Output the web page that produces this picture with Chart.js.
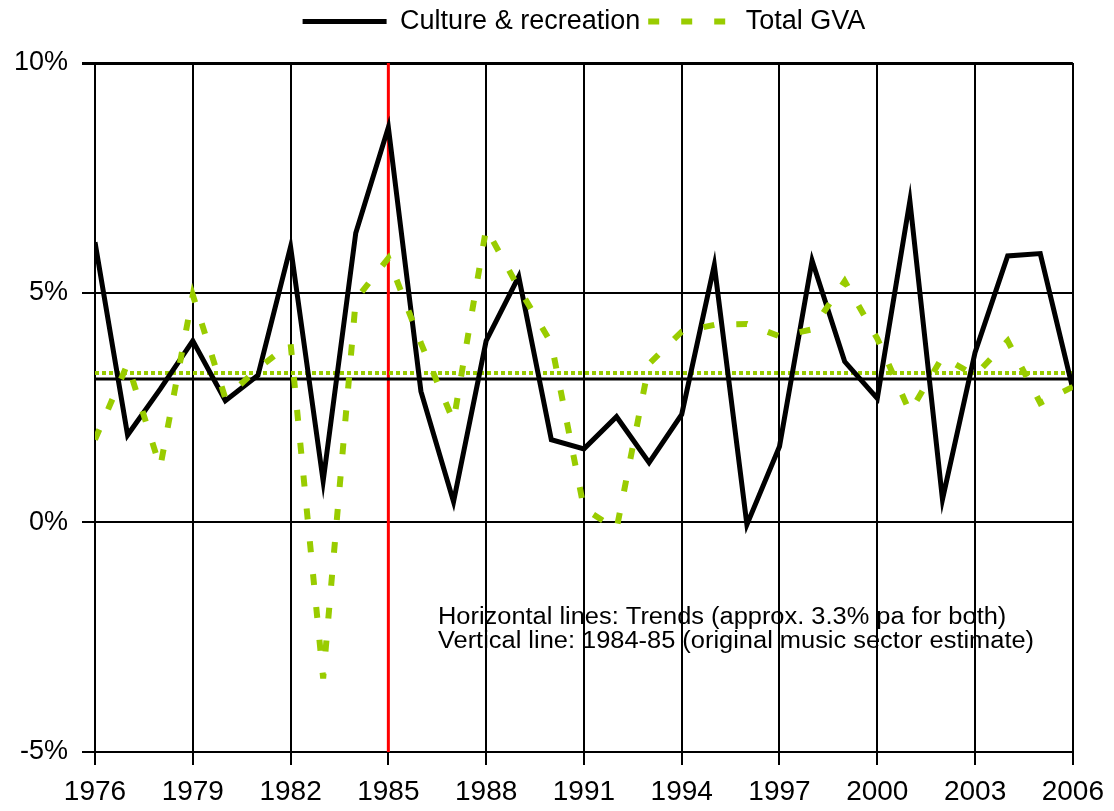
<!DOCTYPE html>
<html>
<head>
<meta charset="utf-8">
<script src="https://cdn.jsdelivr.net/npm/chart.js@4"></script>
<style>
  html, body { margin: 0; padding: 0; background: #fff; }
  #wrap { width: 1114px; height: 811px; }
</style>
</head>
<body>
<div id="wrap"><canvas id="grafico" width="1114" height="811"></canvas></div>
<script>
// anos e séries (%)
const anos = [1976, 1977, 1978, 1979, 1980, 1981, 1982, 1983, 1984, 1985, 1986,
  1987, 1988, 1989, 1990, 1991, 1992, 1993, 1994, 1995, 1996,
  1997, 1998, 1999, 2000, 2001, 2002, 2003, 2004, 2005, 2006];
const cultura = [6.1, 1.9, 2.9, 3.95, 2.65, 3.2, 6.0, 0.9, 6.3, 8.6, 2.85,
  0.45, 3.95, 5.35, 1.8, 1.6, 2.3, 1.3, 2.35, 5.6, -0.05,
  1.65, 5.7, 3.5, 2.7, 7.0, 0.5, 3.7, 5.8, 5.85, 2.9];
const gvaTotal = [1.8, 3.45, 1.2, 4.95, 2.7, 3.35, 3.9, -3.4, 4.85, 5.75, 3.9,
  2.2, 6.4, 5.1, 3.9, 0.3, -0.15, 3.45, 4.15, 4.3, 4.32,
  4.05, 4.2, 5.25, 4.0, 2.4, 3.6, 3.2, 3.95, 2.6, 2.95];
const tendCultura = 3.12;
const tendGva = 3.25;
const anoVertical = 1985;
const yTicks = [-5, 0, 5, 10];
const notas = [
  'Horizontal lines: Trends (approx. 3.3% pa for both)',
  'Vertical line: 1984-85 (original music sector estimate)'
];

const VERDE = '#99cc00';
const FONTE = '"Liberation Sans", Arial, sans-serif';

const pontos = (serie) => anos.map((a, i) => ({ x: a, y: serie[i] }));
const xMin = anos[0], xMax = anos[anos.length - 1];

// texto de notas dentro da área do gráfico (um pouco esticado na horizontal, como no original)
const notasPlugin = {
  id: 'notas',
  beforeInit(chart) {
    // espaço extra abaixo da legenda
    const fitOrig = chart.legend.fit;
    chart.legend.fit = function () {
      fitOrig.bind(chart.legend)();
      this.height += 18;
    };
  },
  afterDatasetsDraw(chart) {
    const ctx = chart.ctx;
    const x = chart.scales.x.getPixelForValue(1986) + 17;
    const y0 = chart.scales.y.getPixelForValue(-2.2) + 1;
    ctx.save();
    ctx.font = '23px ' + FONTE;
    ctx.fillStyle = '#000';
    ctx.textBaseline = 'alphabetic';
    ctx.translate(x, 0);
    ctx.scale(1.105, 1);
    notas.forEach((t, i) => ctx.fillText(t, 0, y0 + i * 23.5));
    ctx.restore();
  }
};

function gerarLegenda(chart) {
  const itens = Chart.defaults.plugins.legend.labels.generateLabels(chart);
  itens.forEach(it => {
    const ds = chart.data.datasets[it.datasetIndex];
    it.lineDash = ds.borderDash || [];
    it.lineWidth = ds.borderWidth;
    it.strokeStyle = ds.borderColor;
    it.fillStyle = ds.borderColor;
  });
  return itens;
}

const ctx = document.getElementById('grafico').getContext('2d');
new Chart(ctx, {
  type: 'line',
  data: {
    datasets: [
      {
        label: 'Culture & recreation',
        data: pontos(cultura),
        borderColor: '#000', backgroundColor: '#000',
        borderWidth: 5, pointRadius: 0, tension: 0, order: 1
      },
      {
        label: 'Total GVA',
        data: pontos(gvaTotal),
        borderColor: VERDE, backgroundColor: VERDE,
        borderWidth: 6, borderDash: [11, 22], pointRadius: 0, tension: 0, order: 0
      },
      {
        label: 'trend1',
        data: [{ x: xMin, y: tendCultura }, { x: xMax, y: tendCultura }],
        borderColor: '#000', borderWidth: 3, pointRadius: 0, order: 2
      },
      {
        label: 'trend2',
        data: [{ x: xMin, y: tendGva }, { x: xMax, y: tendGva }],
        borderColor: VERDE, borderWidth: 4, borderDash: [4, 3], pointRadius: 0, order: 2
      },
      {
        label: 'vertical',
        data: [{ x: anoVertical, y: yTicks[0] }, { x: anoVertical, y: yTicks[yTicks.length - 1] }],
        borderColor: '#ff0000', borderWidth: 3, pointRadius: 0, order: 3
      }
    ]
  },
  options: {
    responsive: false,
    animation: false,
    layout: { padding: { top: 0, right: 39, left: 0, bottom: 0 } },
    plugins: {
      legend: {
        position: 'top',
        fullSize: false,
        labels: {
          generateLabels: gerarLegenda,
          filter: (item) => item.datasetIndex < 2,
          sort: (a, b) => a.datasetIndex - b.datasetIndex,
          usePointStyle: true,
          pointStyle: 'line',
          pointStyleWidth: 84,
          color: '#000',
          font: { family: FONTE, size: 27 },
          padding: 8
        }
      },
      tooltip: { enabled: false }
    },
    scales: {
      x: {
        type: 'linear',
        min: xMin, max: xMax,
        afterFit: (s) => { s.height = 59; },
        ticks: {
          stepSize: 3,
          color: '#000',
          font: { family: FONTE, size: 28 },
          padding: 10,
          maxRotation: 0,
          callback: (v) => String(v)
        },
        grid: { color: '#000', lineWidth: 2, tickLength: 13 },
        border: { color: '#000', width: 2 }
      },
      y: {
        min: yTicks[0], max: yTicks[yTicks.length - 1],
        afterFit: (s) => { s.width = 95; },
        ticks: {
          stepSize: 5,
          color: '#000',
          font: { family: FONTE, size: 27 },
          padding: 14,
          callback: (v) => v + '%'
        },
        grid: { color: '#000', lineWidth: (c) => (c.tick && c.tick.value === 10 ? 3 : 2), tickLength: 13 },
        border: { color: '#000', width: 2 }
      }
    }
  },
  plugins: [notasPlugin]
});
</script>
</body>
</html>
